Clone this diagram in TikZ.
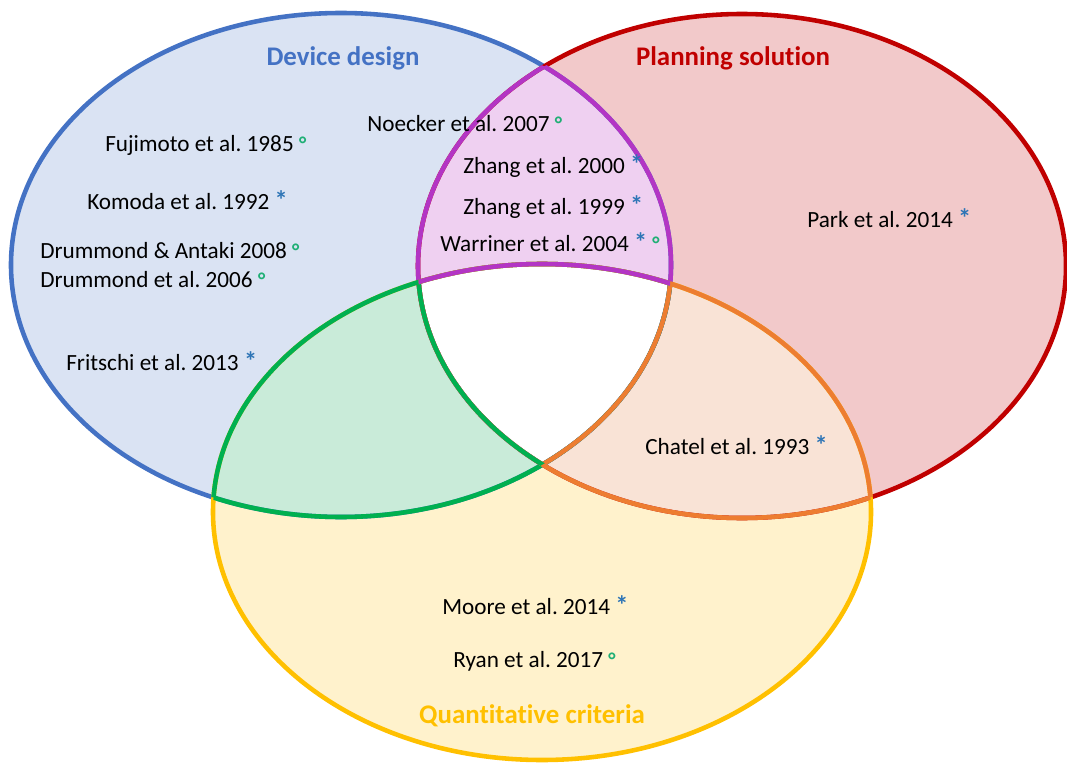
\documentclass[tikz,border=0pt]{standalone}
\usepackage{fontspec}
\setmainfont{Carlito}[Ligatures=NoCommon]
\frenchspacing
\definecolor{dblue}{HTML}{4472C4}
\definecolor{dred}{HTML}{C00000}
\definecolor{dyellow}{HTML}{FFC000}
\definecolor{dpurple}{HTML}{B335C4}
\definecolor{dgreen}{HTML}{00B050}
\definecolor{dorange}{HTML}{ED7D31}
\definecolor{lblue}{HTML}{DAE3F3}
\definecolor{lred}{HTML}{F2C9CA}
\definecolor{lyellow}{HTML}{FFF2CC}
\definecolor{lpurple}{HTML}{EFD0F1}
\definecolor{lgreen}{HTML}{C9EBD9}
\definecolor{lorange}{HTML}{F9E3D6}
\definecolor{astcol}{HTML}{2E75B6}
\definecolor{degcol}{HTML}{1FAF75}
\newcommand{\mast}{\textcolor{astcol}{\fontsize{15}{15}\selectfont\bfseries *}}
\newcommand{\mdeg}{\textcolor{degcol}{\fontsize{12}{12}\selectfont\bfseries °}}
\def\devset{(341,265) ellipse [x radius=330, y radius=252]}
\def\planset{(742,266) ellipse [x radius=324, y radius=252]}
\def\quantset{(542,512) ellipse [x radius=329, y radius=248]}

\begin{document}
\begin{tikzpicture}[
	x=0.02cm, y=-0.02cm,
	rim/.style={line width=2.6pt},
	ref/.style={anchor=west, inner sep=0pt, font=\fontsize{13.2}{15}\selectfont},
	title/.style={inner sep=0pt, font=\fontsize{15.3}{18}\selectfont\bfseries}
	]
	\useasboundingbox (0,0) rectangle (1067,763);
	\fill[lblue] \devset;
	\fill[lred] \planset;
	\fill[lyellow] \quantset;
	\begin{scope}
		\clip \devset;
		\fill[lpurple] \planset;
		\fill[lgreen] \quantset;
	\end{scope}
	\begin{scope}
		\clip \planset;
		\fill[lorange] \quantset;
	\end{scope}
	\begin{scope}
		\clip \devset;
		\clip \planset;
		\fill[white] \quantset;
	\end{scope}
	\draw[rim, dblue] \devset;
	\draw[rim, dred] \planset;
	\draw[rim, dyellow] \quantset;
	\begin{scope}
		\clip \planset;
		\draw[rim, dpurple] \devset;
	\end{scope}
	\begin{scope}
		\clip \quantset;
		\draw[rim, dgreen] \devset;
	\end{scope}
	\begin{scope}
		\clip \planset;
		\clip \quantset;
		\draw[rim, dorange] \devset;
	\end{scope}
	\begin{scope}
		\clip \devset;
		\draw[rim, dpurple] \planset;
	\end{scope}
	\begin{scope}
		\clip \quantset;
		\draw[rim, dorange] \planset;
	\end{scope}
	\begin{scope}
		\clip \devset;
		\clip \quantset;
		\draw[rim, dgreen] \planset;
	\end{scope}
	\begin{scope}
		\clip \devset;
		\draw[rim, dgreen] \quantset;
	\end{scope}
	\begin{scope}
		\clip \planset;
		\draw[rim, dorange] \quantset;
	\end{scope}
	\begin{scope}
		\clip \devset;
		\clip \planset;
		\draw[rim, dpurple] \quantset;
	\end{scope}
	\node[title, text=dblue] (device) at (343,58) {Device design};
	\node[title, text=dred] (planning) at (733,58) {Planning solution};
	\node[title, text=dyellow] (quant) at (532,716) {Quantitative criteria};
	\node[ref] (fujimoto) at (105,145) {Fujimoto et al. 1985 \mdeg};
	\node[ref] (komoda) at (87,200) {Komoda et al. 1992 \mast};
	\node[ref] (antaki) at (40,251) {Drummond \& Antaki 2008 \mdeg};
	\node[ref] (drummond) at (40,280) {Drummond et al. 2006 \mdeg};
	\node[ref] (fritschi) at (66,361) {Fritschi et al. 2013 \mast};
	\node[ref] (noecker) at (367,124) {Noecker et al. 2007 \mdeg};
	\node[ref] (zhangA) at (463,166) {Zhang et al. 2000 \mast};
	\node[ref] (zhangB) at (463,207) {Zhang et al. 1999 \mast};
	\node[ref] (warriner) at (440,242) {Warriner et al. 2004 \mast\ \mdeg};
	\node[ref] (park) at (807,218) {Park et al. 2014 \mast};
	\node[ref] (chatel) at (645,445) {Chatel et al. 1993 \mast};
	\node[ref] (moore) at (442,605) {Moore et al. 2014 \mast};
	\node[ref] (ryan) at (453,661) {Ryan et al. 2017 \mdeg};
\end{tikzpicture}
\end{document}
